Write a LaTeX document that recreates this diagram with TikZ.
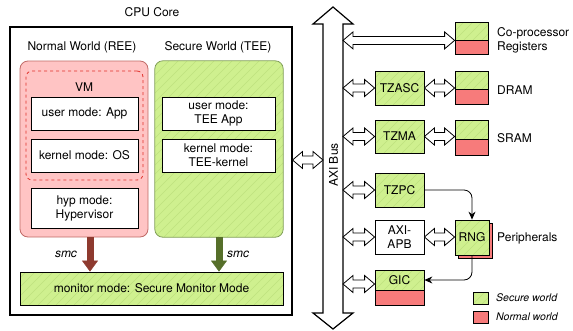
\documentclass[tikz,border=0pt]{standalone}
\usepackage{fontspec}
\setmainfont{TeX Gyre Heros}
\usetikzlibrary{calc,arrows.meta}
\definecolor{secfill}{HTML}{CFF08F}
\definecolor{hatchc}{HTML}{BEE27F}
\definecolor{norfill}{HTML}{F77B7B}
\definecolor{reefill}{HTML}{FFC4C4}
\definecolor{reeline}{HTML}{C06A66}
\definecolor{vmline}{HTML}{E0302A}
\definecolor{teeline}{HTML}{7E9E52}
\definecolor{smcred}{HTML}{8E3A2F}
\definecolor{smcgreen}{HTML}{566F2A}

\begin{document}
\begin{tikzpicture}[x=1pt, y=-1pt,
        font=\fontsize{12}{14}\selectfont,
        modebox/.style={draw, fill=white, line width=0.8pt, inner sep=0pt, align=center},
        hatched/.style={fill=secfill, path picture={
            \foreach \k in {-22,...,32}
              \draw[draw=hatchc, line width=0.6pt] ($(path picture bounding box.south west)+(\k*9pt,0pt)$) -- +(300pt,300pt);}},
        secbox/.style={draw, line width=0.8pt, inner sep=0pt, align=center, hatched},
        norbox/.style={draw, line width=0.8pt, inner sep=0pt, fill=norfill},
        sidetext/.style={anchor=west, inner sep=0pt, align=left},
        smcarrow/.style={line width=7pt, -{Triangle[length=11pt, width=16pt, line width=0.5pt]}},
        flow/.style={line width=0.8pt, rounded corners=8pt, -{Stealth[length=8pt, width=7pt]}},
        dblarrow/.style={draw, fill=white, line width=0.8pt, line join=miter,
          to path={let \p1=(\tikztostart), \p2=(\tikztotarget) in
            -- (\x1+10pt,\y1+8.5pt) -- (\x1+10pt,\y1+4pt) -- (\x2-10pt,\y1+4pt)
            -- (\x2-10pt,\y1+8.5pt) -- (\x2,\y1) -- (\x2-10pt,\y1-8.5pt)
            -- (\x2-10pt,\y1-4pt) -- (\x1+10pt,\y1-4pt) -- (\x1+10pt,\y1-8.5pt) -- cycle}}
      ]
      \useasboundingbox (0,0) rectangle (573,330);

      % cpu core
      \node at (152,12) (cpulabel) {CPU Core};
      \node[draw, line width=1.1pt, minimum width=282pt, minimum height=288pt] at (151,171) (cpu) {};
      \node at (82,47) (reelabel) {Normal World (REE)};
      \node at (218,47) (teelabel) {Secure World (TEE)};

      % normal world
      \node[draw=reeline, fill=reefill, rounded corners=8pt, line width=0.8pt, minimum width=128pt, minimum height=176pt] at (84,149) (ree) {};
      \node[draw=vmline, dashed, rounded corners=6pt, line width=0.8pt, minimum width=117pt, minimum height=109pt] at (84.5,125.5) (vm) {};
      \node at (84,87) (vmlabel) {VM};
      \node[modebox, minimum width=107pt, minimum height=33pt] at (84.5,113.5) (app) {user mode: App};
      \node[modebox, minimum width=107pt, minimum height=33pt] at (84.5,155.5) (os) {kernel mode: OS};
      \node[modebox, minimum width=107pt, minimum height=40pt] at (84.5,208) (hyp) {hyp mode:\\Hypervisor};

      % secure world
      \node[hatched, inner sep=0pt, rounded corners=8pt, minimum width=128pt, minimum height=176pt] at (219,149) (tee) {};
      \draw[teeline, line width=0.8pt, rounded corners=8pt] (tee.north west) rectangle (tee.south east);
      \node[modebox, minimum width=113pt, minimum height=33pt] at (218.5,113.5) (teeapp) {user mode:\\TEE App};
      \node[modebox, minimum width=113pt, minimum height=33pt] at (218.5,155.5) (teekernel) {kernel mode:\\TEE-kernel};

      % monitor
      \node[secbox, minimum width=263pt, minimum height=33pt] at (151.5,288.5) (monitor) {monitor mode: Secure Monitor Mode};
      \draw[smcarrow, smcred] ([xshift=6pt]ree.south) -- ([xshift=6pt]ree.south |- monitor.north);
      \draw[smcarrow, smcgreen] (tee.south) -- (tee.south |- monitor.north);
      \node[font=\fontsize{12}{14}\selectfont\itshape] at (66,254) (smcree) {smc};
      \node[font=\fontsize{12}{14}\selectfont\itshape] at (238,254) (smctee) {smc};

      % bus
      \draw[line width=1.2pt, fill=white] (333,7) -- (353,24) -- (343,24) -- (343,313) -- (353,313)
        -- (333,329) -- (313,313) -- (323,313) -- (323,24) -- (313,24) -- cycle;
      \node[rotate=90] at (333.5,165) (buslabel) {AXI Bus};
      \coordinate (busW) at (323,160);
      \coordinate (busE) at (343,160);
      \draw[dblarrow] (cpu.east |- busW) to (busW);

      % co-processor registers
      \node[secbox, minimum width=33pt, minimum height=18pt] at (471.5,31) (cpsec) {};
      \node[norbox, minimum width=33pt, minimum height=14pt] at (471.5,47) (cpnor) {};
      \node[sidetext] at (497,40) (cplabel) {Co-processor\\Registers};
      \draw[dblarrow] (busE |- cpsec.south) to (cpsec.south west);

      % dram
      \node[secbox, minimum width=49pt, minimum height=34pt] at (399.5,88) (tzasc) {TZASC};
      \node[secbox, minimum width=33pt, minimum height=18pt] at (471.5,80) (dramsec) {};
      \node[norbox, minimum width=33pt, minimum height=15pt] at (471.5,96.5) (dramnor) {};
      \node[sidetext] at (497,90) (dramlabel) {DRAM};
      \draw[dblarrow] (busE |- tzasc.west) to (tzasc.west);
      \draw[dblarrow] (tzasc.east) to (tzasc.east -| dramsec.west);

      % sram
      \node[secbox, minimum width=49pt, minimum height=33pt] at (399.5,136.5) (tzma) {TZMA};
      \node[secbox, minimum width=33pt, minimum height=19pt] at (471.5,129.5) (sramsec) {};
      \node[norbox, minimum width=33pt, minimum height=16pt] at (471.5,147) (sramnor) {};
      \node[sidetext] at (497,138) (sramlabel) {SRAM};
      \draw[dblarrow] (busE |- tzma.west) to (tzma.west);
      \draw[dblarrow] (tzma.east) to (tzma.east -| sramsec.west);

      % peripherals
      \node[secbox, minimum width=49pt, minimum height=34pt] at (399.5,190) (tzpc) {TZPC};
      \node[modebox, minimum width=49pt, minimum height=34pt] at (399.5,237) (axiapb) {AXI-\\APB};
      \node[norbox, minimum width=34pt, minimum height=35pt] at (475,240.5) (rngshadow) {};
      \node[secbox, minimum width=34pt, minimum height=35pt] at (472,237.5) (rng) {RNG};
      \node[sidetext] at (497,238) (perlabel) {Peripherals};
      \node[secbox, minimum width=49pt, minimum height=20pt] at (399.5,280) (gicsec) {GIC};
      \node[norbox, minimum width=49pt, minimum height=15pt] at (399.5,297.5) (gicnor) {};
      \coordinate (gicport) at ([yshift=-4pt]gicsec.west);
      \draw[dblarrow] (busE |- tzpc.west) to (tzpc.west);
      \draw[dblarrow] (busE |- axiapb.west) to (axiapb.west);
      \draw[dblarrow] (axiapb.east) to (rng.west);
      \draw[dblarrow] (busE |- gicport) to (gicport);
      \draw[flow] (tzpc.east) -| (rng.north);
      \draw[flow] (rng.south) |- (gicsec.east);

      % legend
      \node[secbox, minimum width=15pt, minimum height=12pt] at (480.5,298) (legsec) {};
      \node[sidetext, font=\fontsize{10.5}{12}\selectfont\itshape] at (496,298) (legseclabel) {Secure world};
      \node[norbox, minimum width=15pt, minimum height=12pt] at (480.5,317) (legnor) {};
      \node[sidetext, font=\fontsize{10.5}{12}\selectfont\itshape] at (496,317) (legnorlabel) {Normal world};
  \end{tikzpicture}
\end{document}
